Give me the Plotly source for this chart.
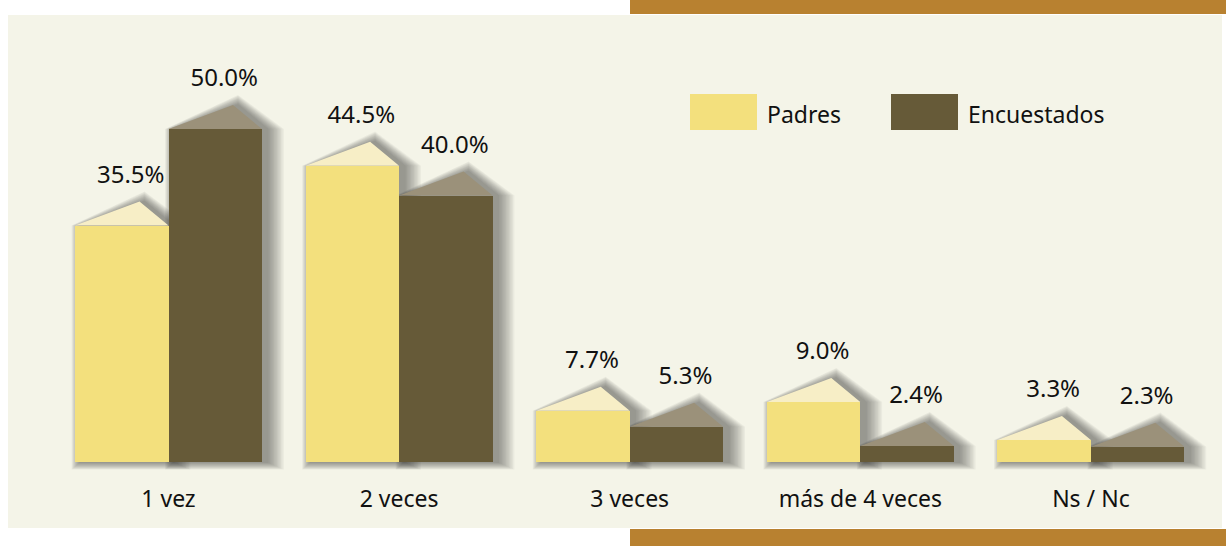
import plotly.graph_objects as go

# data
categories = ["1 vez", "2 veces", "3 veces", "más de 4 veces", "Ns / Nc"]
padres = [35.5, 44.5, 7.7, 9.0, 3.3]
encuestados = [50.0, 40.0, 5.3, 2.4, 2.3]
series_names = ["Padres", "Encuestados"]

YELLOW, YELLOW_ROOF = "#f3e07d", "#f7eec6"
BROWN, BROWN_ROOF = "#665a38", "#9b917a"
PANEL = "#f4f4e8"
BAND = "#b88130"
FONT = "Noto Sans"

W, H = 1226, 546
PLOT_BOTTOM = 475   # px, bottom of plot area
ZERO_PX = 462       # px, baseline of bars
SX = 230.6          # px per category
SY = 6.66           # px per percent
X0_PX = 168.5       # px of first category

bar_w = 93.5 / SX
roof_h = 24 / SY
peak = 0.69

x_range = [-X0_PX / SX, (W - X0_PX) / SX]
y_range = [-(PLOT_BOTTOM - ZERO_PX) / SY, ZERO_PX / SY]


def py(p):
    return (PLOT_BOTTOM - p) / PLOT_BOTTOM


def pxx(p):
    return p / W


idx = list(range(len(categories)))
groups = [
    (padres, [i - bar_w / 2 for i in idx], YELLOW, YELLOW_ROOF),
    (encuestados, [i + bar_w / 2 for i in idx], BROWN, BROWN_ROOF),
]

shapes = [
    # panel and brown bands
    dict(type="rect", xref="paper", yref="paper", x0=pxx(8), x1=pxx(1222), y0=py(15), y1=py(528),
         fillcolor=PANEL, line_width=0, layer="below"),
    dict(type="rect", xref="paper", yref="paper", x0=pxx(630), x1=1, y0=py(0), y1=py(14),
         fillcolor=BAND, line_width=0, layer="below"),
    dict(type="rect", xref="paper", yref="paper", x0=pxx(630), x1=1, y0=py(529), y1=py(546),
         fillcolor=BAND, line_width=0, layer="below"),
]

# soft drop shadows behind each bar (stacked translucent outlines, heavier to the right)
ox = 5 / SX
for vals, xs, _, _ in groups:
    for v, xc in zip(vals, xs):
        xl, xr = xc - bar_w / 2, xc + bar_w / 2
        xp = xl + peak * bar_w
        for k in range(12):
            e = 1.4 * (k + 1)
            ex, ey = e / SX, e / SY
            pts = [(xl - 0.5 * ex + ox, -0.45 * ey), (xl - 0.5 * ex + ox, v),
                   (xp + ox, v + roof_h + 0.6 * ey), (xr + ex + ox, v), (xr + ex + ox, -0.45 * ey)]
            path = "M " + " L ".join(f"{a:.4f},{b:.4f}" for a, b in pts) + " Z"
            shapes.append(dict(type="path", xref="x", yref="y", path=path,
                               fillcolor="rgb(50,48,35)", opacity=0.048, line_width=0, layer="below"))

fig = go.Figure()

for name, (vals, xs, col, roof_col) in zip(series_names, groups):
    fig.add_trace(go.Bar(x=xs, y=vals, width=bar_w, name=name, marker=dict(color=col, line_width=0),
                         showlegend=False, hoverinfo="skip"))
    rx, ry = [], []
    for v, xc in zip(vals, xs):
        xl, xr = xc - bar_w / 2, xc + bar_w / 2
        rx += [xl, xl + peak * bar_w, xr, xl, None]
        ry += [v, v + roof_h, v, v, None]
    fig.add_trace(go.Scatter(x=rx, y=ry, mode="lines", fill="toself", fillcolor=roof_col,
                             line=dict(width=0, color=roof_col), showlegend=False, hoverinfo="skip"))
    fig.add_trace(go.Scatter(x=[xc + 9 / SX for xc in xs], y=[v + 49 / SY for v in vals],
                             mode="text", text=[f"{v:.1f}%" for v in vals],
                             textfont=dict(family=FONT, size=24, color="#111111"),
                             cliponaxis=False, showlegend=False, hoverinfo="skip"))

# legend drawn by hand to get the wide swatches
annotations = []
for name, col, x0 in [("Padres", YELLOW, 690), ("Encuestados", BROWN, 891)]:
    shapes.append(dict(type="rect", xref="paper", yref="paper", x0=pxx(x0), x1=pxx(x0 + 67),
                       y0=py(94), y1=py(130), fillcolor=col, line_width=0))
    annotations.append(dict(xref="paper", yref="paper", x=pxx(x0 + 75), y=py(114), text=name,
                            xanchor="left", yanchor="middle", showarrow=False,
                            font=dict(family=FONT, size=23, color="#111111")))

fig.update_layout(
    width=W, height=H,
    margin=dict(l=0, r=0, t=0, b=H - PLOT_BOTTOM),
    paper_bgcolor="white", plot_bgcolor="rgba(0,0,0,0)",
    barmode="overlay", bargap=0,
    shapes=shapes, annotations=annotations,
    xaxis=dict(range=x_range, tickvals=idx, ticktext=categories, showgrid=False, zeroline=False,
               showline=False, ticks="", ticklabelstandoff=8,
               tickfont=dict(family=FONT, size=23, color="#111111"), fixedrange=True),
    yaxis=dict(range=y_range, visible=False, fixedrange=True),
)

# page has a default 8px body margin; drop it so the figure sits at the window corner
fig.write_html("out.html", config={"displayModeBar": False},
               post_script="document.body.style.margin='0';document.body.style.overflow='hidden';")
